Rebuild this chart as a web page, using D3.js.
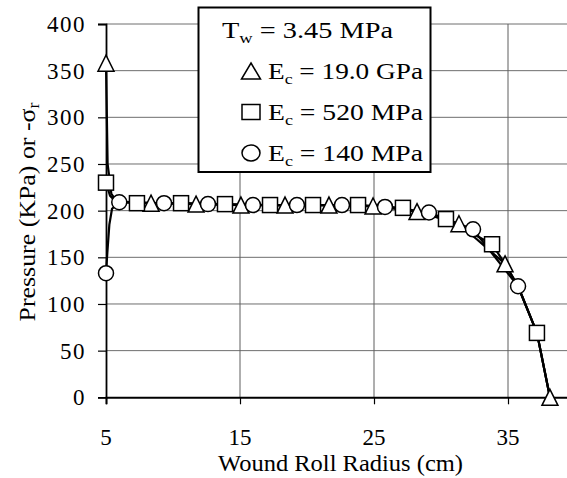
<!DOCTYPE html>
<html>
<head>
<meta charset="utf-8">
<script src="https://cdn.jsdelivr.net/npm/d3@7/dist/d3.min.js"></script>
<style>
  html, body { margin: 0; padding: 0; background: #fff; overflow: hidden; }
  svg { display: block; }
  text { font-family: "Liberation Serif", "Times New Roman", Times, serif; fill: #000; }
</style>
</head>
<body>
<svg id="chart" width="567" height="478"></svg>
<script>
// Radial pressure through a wound roll, three core stiffnesses (Tw = 3.45 MPa)

// Ec = 19.0 GPa (triangles)
const triRadius   = [5, 8.36, 11.72, 15.07, 18.36, 21.64, 24.93, 28.21, 31.34, 34.78, 38.13];
const triPressure = [358, 208, 207, 206, 206, 206, 205, 199, 186, 143, 0];
const triBendRadius   = [5.12, 5.4, 5.8, 35.75, 37.16];
const triBendPressure = [250, 218, 210, 119, 69];

// Ec = 520 MPa (squares)
const sqRadius   = [5, 7.31, 10.6, 13.88, 17.24, 20.45, 23.81, 27.16, 30.37, 33.81, 37.16];
const sqPressure = [230, 208, 208, 207, 206, 206, 206, 203, 191, 164, 69];
const sqBendRadius   = [5.3, 5.7, 34.78, 35.75, 38.13];
const sqBendPressure = [216, 210, 143, 119, 0];

// Ec = 140 MPa (circles)
const ciRadius   = [5, 5.99, 9.33, 12.61, 15.97, 19.25, 22.61, 25.82, 29.1, 32.39, 35.75];
const ciPressure = [133, 209, 208, 207, 206, 206, 206, 204, 198, 180, 119];
const ciBendRadius   = [5.1, 5.25, 5.45, 37.16, 38.13];
const ciBendPressure = [155, 185, 202, 69, 0];

const xTicks = [5, 15, 25, 35];
const yTicks = [0, 50, 100, 150, 200, 250, 300, 350, 400];

const legendTitle = "3.45 MPa";
const legendLabels = ["19.0 GPa", "520 MPa", "140 MPa"];

const svg = d3.select("#chart");

const x = d3.scaleLinear().domain([5, 40]).range([106, 575]);
const y = d3.scaleLinear().domain([0, 400]).range([397.3, 24]);

// horizontal grid
svg.append("g")
  .selectAll("line")
  .data(yTicks.filter(d => d > 0))
  .join("line")
  .attr("x1", x(5)).attr("x2", 567)
  .attr("y1", d => y(d)).attr("y2", d => y(d))
  .attr("stroke", "#6e6e6e").attr("stroke-width", 1);

// vertical grid
svg.append("g")
  .selectAll("line")
  .data(xTicks.filter(d => d > 5))
  .join("line")
  .attr("x1", d => x(d)).attr("x2", d => x(d))
  .attr("y1", y(400)).attr("y2", y(0))
  .attr("stroke", "#5e5e5e").attr("stroke-width", 1);

// axes
const yAxis = d3.axisLeft(y).tickValues(yTicks).tickSize(8).tickFormat("");
const gy = svg.append("g").attr("transform", `translate(${x(5)},0)`).call(yAxis);
gy.select(".domain").attr("stroke", "#000").attr("stroke-width", 1.8);
gy.selectAll(".tick line").attr("stroke", "#000").attr("stroke-width", 1.2);

const xAxis = d3.axisBottom(x).tickValues(xTicks).tickSize(7).tickFormat("");
const gx = svg.append("g").attr("transform", `translate(0,${y(0)})`).call(xAxis);
gx.select(".domain").attr("stroke", "#000").attr("stroke-width", 2);
gx.selectAll(".tick line").attr("stroke", "#000").attr("stroke-width", 1.2);

// tick labels
svg.append("g")
  .selectAll("text")
  .data(yTicks)
  .join("text")
  .attr("x", 86).attr("y", d => y(d) + 8)
  .attr("text-anchor", "end")
  .attr("font-size", 23)
  .attr("letter-spacing", 1.5)
  .text(d => d);

svg.append("g")
  .selectAll("text")
  .data(xTicks)
  .join("text")
  .attr("x", d => x(d)).attr("y", 445)
  .attr("text-anchor", "middle")
  .attr("font-size", 23)
  .text(d => d);

// axis titles
svg.append("text")
  .attr("x", 340.5).attr("y", 471)
  .attr("text-anchor", "middle")
  .attr("font-size", 23)
  .attr("textLength", 245).attr("lengthAdjust", "spacingAndGlyphs")
  .text("Wound Roll Radius (cm)");

const yt = svg.append("text")
  .attr("transform", "translate(35,212) rotate(-90)")
  .attr("text-anchor", "middle")
  .attr("font-size", 23)
  .attr("textLength", 219).attr("lengthAdjust", "spacingAndGlyphs");
yt.append("tspan").text("Pressure (KPa) or -σ");
yt.append("tspan").attr("font-size", 16).attr("dy", 4).text("r");

// series
function merged(r, p, br, bp) {
  return r.map((d, i) => [d, p[i]])
    .concat(br.map((d, i) => [d, bp[i]]))
    .sort((a, b) => a[0] - b[0]);
}

const series = [
  { shape: "tri", r: triRadius, p: triPressure, br: triBendRadius, bp: triBendPressure },
  { shape: "sq",  r: sqRadius,  p: sqPressure,  br: sqBendRadius,  bp: sqBendPressure },
  { shape: "ci",  r: ciRadius,  p: ciPressure,  br: ciBendRadius,  bp: ciBendPressure }
];

const line = d3.line().x(d => x(d[0])).y(d => y(d[1]));

series.forEach(s => {
  svg.append("path")
    .datum(merged(s.r, s.p, s.br, s.bp))
    .attr("d", line)
    .attr("fill", "none")
    .attr("stroke", "#000")
    .attr("stroke-width", 2.2)
    .attr("stroke-linejoin", "round");
});

// w, h: marker box size
function drawMarker(g, shape, cx, cy, w, h) {
  if (shape === "tri") {
    g.append("path")
      .attr("d", `M${cx},${cy - h / 2} L${cx + w / 2},${cy + h / 2} L${cx - w / 2},${cy + h / 2} Z`)
      .attr("fill", "#fff").attr("stroke", "#000").attr("stroke-width", 1.5);
  } else if (shape === "sq") {
    g.append("rect")
      .attr("x", cx - w / 2).attr("y", cy - h / 2)
      .attr("width", w).attr("height", h)
      .attr("fill", "#fff").attr("stroke", "#000").attr("stroke-width", 1.5);
  } else {
    g.append("ellipse")
      .attr("cx", cx).attr("cy", cy).attr("rx", w / 2).attr("ry", h / 2)
      .attr("fill", "#fff").attr("stroke", "#000").attr("stroke-width", 1.5);
  }
}

const markers = svg.append("g");
const plotSize = { tri: [16, 16], sq: [15, 15], ci: [15, 15] };
series.forEach(s => {
  s.r.forEach((r, i) => drawMarker(markers, s.shape, x(r), y(s.p[i]), ...plotSize[s.shape]));
});

// legend
const lg = svg.append("g");
lg.append("rect")
  .attr("x", 198.5).attr("y", 7.5)
  .attr("width", 232).attr("height", 164.5)
  .attr("fill", "#fff").attr("stroke", "#000").attr("stroke-width", 2);

const t0 = lg.append("text").attr("x", 222).attr("y", 38).attr("font-size", 23)
  .attr("textLength", 171).attr("lengthAdjust", "spacingAndGlyphs");
t0.append("tspan").text("T");
t0.append("tspan").attr("font-size", 15).attr("dy", 5).text("w");
t0.append("tspan").attr("dy", -5).text(" = " + legendTitle);

const shapes = ["tri", "sq", "ci"];
const legendSize = { tri: [19, 16], sq: [18, 15], ci: [18, 16] };
const rowY = [79, 120, 161];
legendLabels.forEach((lab, i) => {
  drawMarker(lg, shapes[i], 251, rowY[i] - 8, ...legendSize[shapes[i]]);
  const t = lg.append("text").attr("x", 268).attr("y", rowY[i]).attr("font-size", 23)
    .attr("textLength", 155).attr("lengthAdjust", "spacingAndGlyphs");
  t.append("tspan").text("E");
  t.append("tspan").attr("font-size", 15).attr("dy", 5).text("c");
  t.append("tspan").attr("dy", -5).text(" = " + lab);
});
</script>
</body>
</html>
